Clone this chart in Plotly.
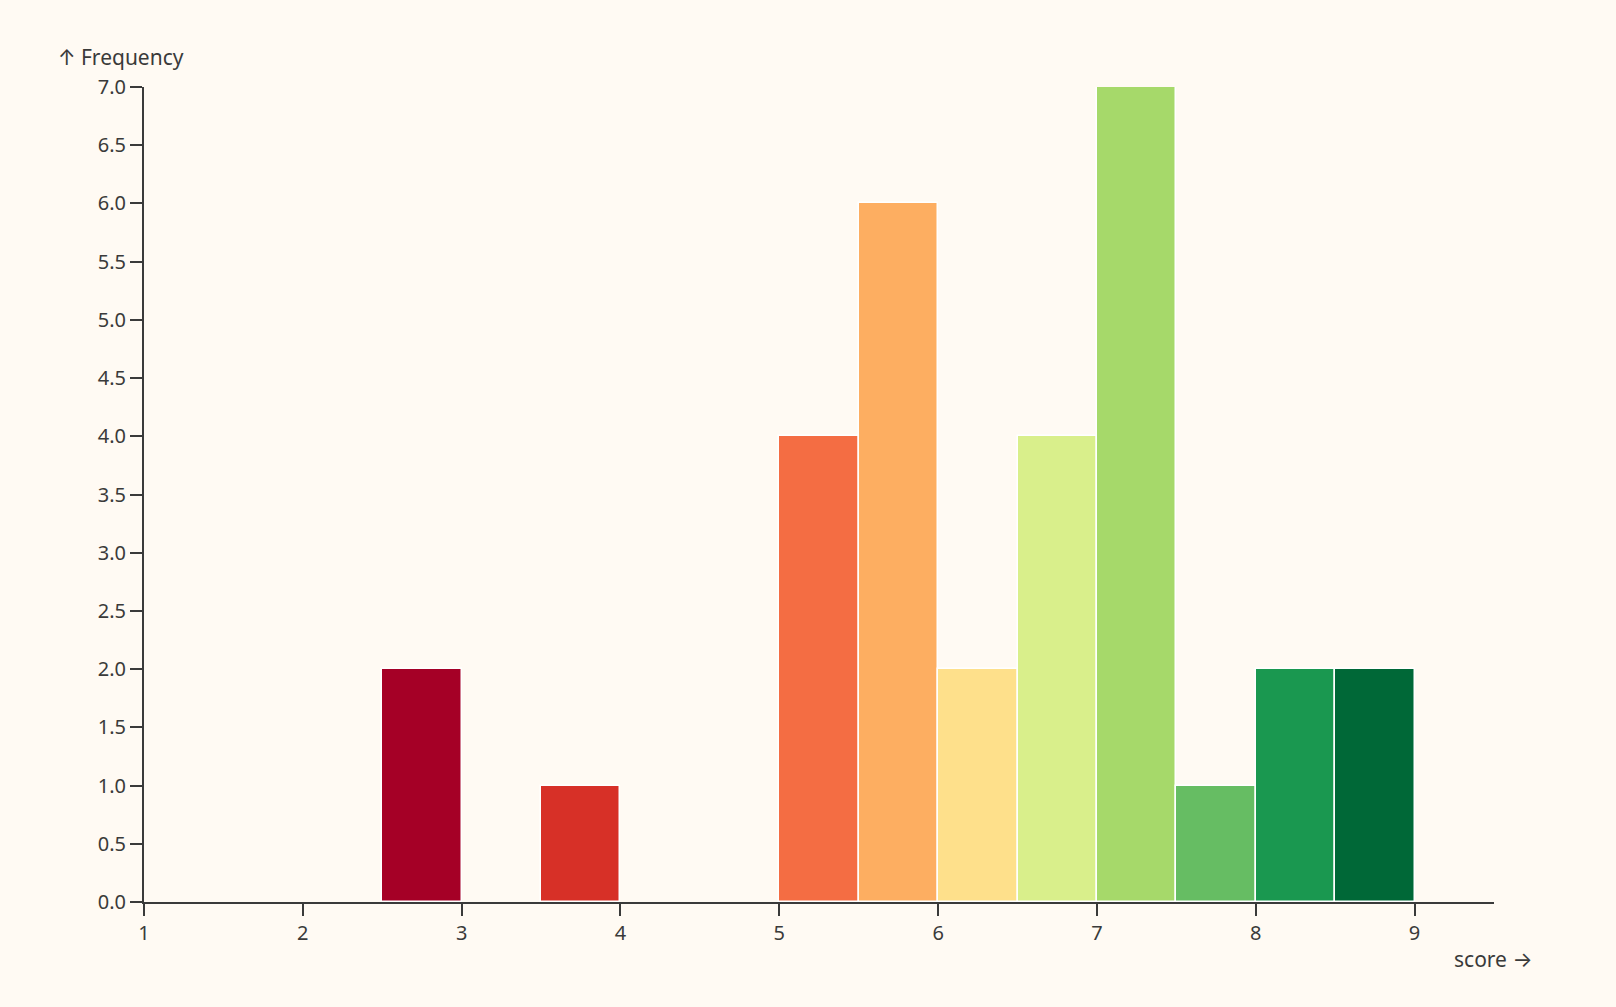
import plotly.graph_objects as go

# histogram bins (left edge), width 0.5
bin_start = [2.5, 3.5, 5.0, 5.5, 6.0, 6.5, 7.0, 7.5, 8.0, 8.5]
counts = [2, 1, 4, 6, 2, 4, 7, 1, 2, 2]
bar_colors = ["#a50026", "#d73027", "#f46d43", "#fdae61", "#fee08b",
              "#d9ef8b", "#a6d96a", "#66bd63", "#1a9850", "#006837"]
x_ticks = [1, 2, 3, 4, 5, 6, 7, 8, 9]
y_ticks = [0.0, 0.5, 1.0, 1.5, 2.0, 2.5, 3.0, 3.5, 4.0, 4.5, 5.0, 5.5, 6.0, 6.5, 7.0]

bg = "#fffaf3"
ink = "#3a3a3a"
font = "Noto Sans, Open Sans, sans-serif"
arrow = "<span style='font-family:Inter'>%s</span>"

fig = go.Figure(go.Bar(
    x=bin_start, y=counts, width=0.5, offset=0,
    marker=dict(color=bar_colors, line=dict(color="white", width=1.5)),
    hoverinfo="x+y",
))

fig.update_layout(
    width=1616, height=1007,
    margin=dict(l=144, r=122, t=87, b=105),
    paper_bgcolor=bg, plot_bgcolor=bg,
    font=dict(family=font, size=20, color=ink),
    showlegend=False,
    bargap=0,
)
fig.update_xaxes(
    range=[1, 9.5], tickvals=x_ticks, showgrid=False, zeroline=False,
    showline=True, linecolor=ink, linewidth=2,
    ticks="outside", ticklen=12, tickwidth=2, tickcolor=ink,
)
fig.update_yaxes(
    range=[0, 7], tickvals=y_ticks, tickformat=".1f", showgrid=False, zeroline=False,
    showline=True, linecolor=ink, linewidth=2,
    ticks="outside", ticklen=12, tickwidth=2, tickcolor=ink,
)
fig.add_annotation(text=arrow % "↑" + " Frequency", xref="paper", yref="paper", x=0, y=1,
                   xanchor="left", yanchor="middle", xshift=-88, yshift=30,
                   showarrow=False, font=dict(size=21))
fig.add_annotation(text="score " + arrow % "→", xref="paper", yref="paper", x=1, y=0,
                   xanchor="right", yanchor="middle", xshift=40, yshift=-57,
                   showarrow=False, font=dict(size=21))

fig.write_html("out.html", config={"displayModeBar": False}, post_script=(
    "document.body.style.margin='0';"
    "document.body.style.background='" + bg + "';"
))
